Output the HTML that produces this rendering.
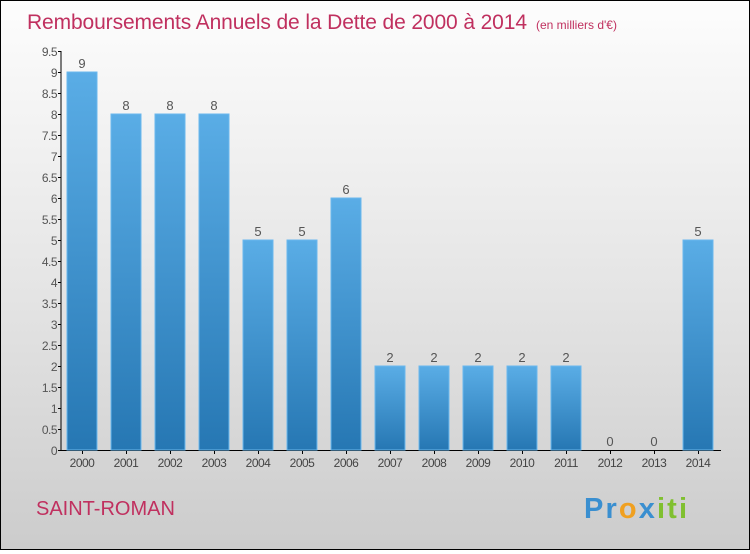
<!DOCTYPE html>
<html><head><meta charset="utf-8"><style>
html,body{margin:0;padding:0}
body{width:750px;height:550px;overflow:hidden;font-family:"Liberation Sans",sans-serif}
#wrap{position:absolute;left:0;top:0;width:748px;height:548px;border:1px solid #000;background:linear-gradient(#fdfdfd,#e6e6e6 50%,#cccccc);}
</style></head><body>
<div id="wrap">
<svg width="748" height="548" xmlns="http://www.w3.org/2000/svg" id="chart">
<defs><linearGradient id="bg" x1="0" y1="0" x2="0" y2="1"><stop offset="0" stop-color="#5aade6"/><stop offset="1" stop-color="#2677b3"/></linearGradient></defs>
<text x="26" y="28" font-size="21" fill="#c0305f" textLength="500">Remboursements Annuels de la Dette de 2000 à 2014</text>
<text x="535" y="28" font-size="12" fill="#c0305f">(en milliers d'€)</text>
<text x="35" y="514" font-size="20" fill="#c0305f">SAINT-ROMAN</text>
<text x="583" y="517" font-size="29" font-weight="bold" textLength="103"><tspan fill="#3a8fd0">Pr</tspan><tspan fill="#f0a020">o</tspan><tspan fill="#3a8fd0">x</tspan><tspan fill="#80c030">iti</tspan></text>
<g id="axes"></g><g id="bars"></g>
</svg></div>
<script>
const categories=["2000","2001","2002","2003","2004","2005","2006","2007","2008","2009","2010","2011","2012","2013","2014"];
const values=[9,8,8,8,5,5,6,2,2,2,2,2,0,0,5];
const ticks=[0,0.5,1,1.5,2,2.5,3,3.5,4,4.5,5,5.5,6,6.5,7,7.5,8,8.5,9,9.5];
const NS="http://www.w3.org/2000/svg";
const y=v=>449-v*42;
const x=i=>81+i*44;
function mk(t,a,p){const e=document.createElementNS(NS,t);for(const k in a)e.setAttribute(k,a[k]);p.appendChild(e);return e;}
const ax=document.getElementById('axes'),bg=document.getElementById('bars');
const yl=mk('line',{x1:60,y1:y(9.5),x2:60,y2:449,stroke:'#000','stroke-width':1},ax);


const xl=mk('line',{x1:60,y1:449.5,x2:720,y2:449.5,stroke:'#000','stroke-width':1},ax);


ticks.forEach(t=>{
 mk('line',{x1:57,y1:y(t)+.5,x2:60,y2:y(t)+.5,stroke:'#000'},ax);
 const tx=mk('text',{x:56,y:y(t)+5,'font-size':12,fill:'#555','text-anchor':'end','letter-spacing':'-0.5'},ax);
 tx.textContent=String(t);
 
 
});
categories.forEach((c,i)=>{
 const v=values[i];
 const r=mk('rect',{x:x(i)-15,y:y(v),width:30,height:449-y(v),fill:'url(#bg)',stroke:'#6ab8ee','stroke-width':1},bg);
 
 
 const vl=mk('text',{x:x(i),y:y(v)-4,'font-size':13,fill:'#555','text-anchor':'middle'},bg);
 vl.textContent=String(v);
 
 
 mk('line',{x1:x(i)+.5,y1:450,x2:x(i)+.5,y2:453,stroke:'#000'},ax);
 const cl=mk('text',{x:x(i),y:466,'font-size':12,fill:'#444','text-anchor':'middle','letter-spacing':'-0.5'},ax);
 cl.textContent=c;
 
 
});
</script>
</body></html>
